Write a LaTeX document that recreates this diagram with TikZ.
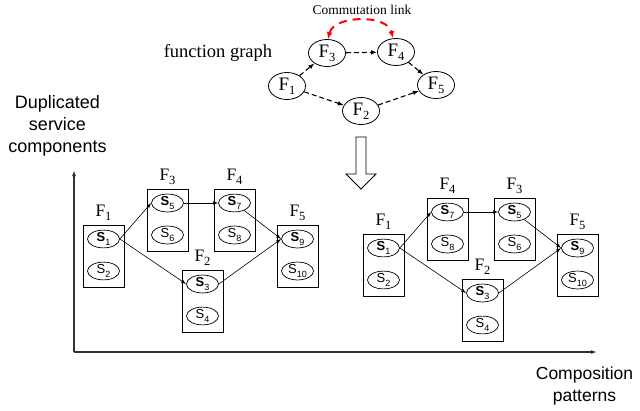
\documentclass[tikz,border=0pt]{standalone}
\usepackage{fontspec}
\setmainfont{Liberation Serif}
\setsansfont{Liberation Sans}
\usetikzlibrary{arrows.meta,shapes.geometric}
\newcommand{\FF}[1]{F\raisebox{-4pt}{\fontsize{12.5}{12.5}\selectfont #1}}
\newcommand{\SSb}[1]{\textbf{S}\raisebox{-3.5pt}{\fontsize{9}{9}\selectfont #1}}
\newcommand{\SSr}[1]{S\raisebox{-3.5pt}{\fontsize{9}{9}\selectfont #1}}
\tikzset{
  fnode/.style={ellipse, draw, line width=0.8pt, minimum width=37pt, minimum height=27pt, inner sep=0pt, font=\fontsize{19}{19}\selectfont},
  fbox/.style={draw, line width=0.8pt, minimum width=41pt, minimum height=62pt, inner sep=0pt},
  snode/.style={ellipse, draw, line width=0.7pt, minimum width=32pt, minimum height=15pt, inner sep=0pt, font=\sffamily\fontsize{13}{13}\selectfont},
  flab/.style={anchor=base, inner sep=0pt, font=\fontsize{17.5}{17.5}\selectfont},
  dasharrow/.style={line width=1.1pt, dash pattern=on 5pt off 3pt, -{Latex[length=6pt,width=4.5pt]}},
  sarrow/.style={line width=0.6pt, -{Latex[length=5pt,width=3.5pt]}},
  axis/.style={line width=1.3pt, draw=black!80, -{Latex[length=6pt,width=4pt]}},
  axlab/.style={align=center, inner sep=0pt, font=\sffamily\fontsize{18}{22}\selectfont}
}
\begin{document}
\begin{tikzpicture}[x=1pt,y=-1pt]
\useasboundingbox (0,0) rectangle (640,410);
% ---- function graph ----
\node[font=\fontsize{18.5}{20}\selectfont] (fg) at (218,53) {function graph};
\node[font=\fontsize{13.5}{15}\selectfont] (cl) at (362,10) {Commutation link};
\node[fnode] (t1) at (287,86) {\FF{1}};
\node[fnode] (t3) at (327,53) {\FF{3}};
\node[fnode] (t4) at (396,52) {\FF{4}};
\node[fnode] (t5) at (436,85) {\FF{5}};
\node[fnode] (t2) at (361,111) {\FF{2}};
\draw[dasharrow] (t1) -- (t3);
\draw[dasharrow] (t3) -- (t4);
\draw[dasharrow] (t4) -- (t5);
\draw[dasharrow] (t1) -- (t2);
\draw[dasharrow] (t2) -- (t5);
\draw[red, line width=2pt, dash pattern=on 8pt off 6pt, {Latex[length=7pt,width=6pt]}-{Latex[length=7pt,width=6pt]}]
  ([xshift=1pt]t3.north) .. controls +(6,-24) and +(-6,-24) .. ([xshift=-3pt]t4.north);
% ---- big arrow ----
\draw[line width=0.8pt, fill=white] (356,137) -- (366,137) -- (366,174) -- (376,174) -- (361,189) -- (346,174) -- (356,174) -- cycle;
% ---- axes ----
\coordinate (O) at (74,352);
\coordinate (Ytop) at (74,170);
\coordinate (Xend) at (597,352);
\draw[axis] (O) -- (Ytop);
\draw[axis] (O) -- (Xend);
\node[axlab] (ylab) at (57.5,126) {Duplicated\\service\\components};
\node[axlab, font=\sffamily\fontsize{17.5}{22.5}\selectfont] (xlab) at (584.5,386) {Composition\\patterns};
% ---- left composition ----
\node[fbox] (LB1) at (103.5,256) {};
\node[fbox] (LB3) at (167.5,220) {};
\node[fbox] (LB4) at (234.5,220) {};
\node[fbox] (LB5) at (297.5,256) {};
\node[fbox] (LB2) at (202.5,301) {};
\node[flab] at ([yshift=8pt]LB1.north) {\FF{1}};
\node[flab] at ([yshift=8pt]LB3.north) {\FF{3}};
\node[flab] at ([yshift=8pt]LB4.north) {\FF{4}};
\node[flab] at ([yshift=8pt]LB5.north) {\FF{5}};
\node[flab] at ([yshift=8pt]LB2.north) {\FF{2}};
\node[snode] (LS1) at ([yshift=17pt]LB1.center) {\SSb{1}};
\node[snode] (LS2) at ([yshift=-15pt]LB1.center) {\SSr{2}};
\node[snode] (LS5) at ([yshift=17pt]LB3.center) {\SSb{5}};
\node[snode] (LS6) at ([yshift=-15pt]LB3.center) {\SSr{6}};
\node[snode] (LS7) at ([yshift=17pt]LB4.center) {\SSb{7}};
\node[snode] (LS8) at ([yshift=-15pt]LB4.center) {\SSr{8}};
\node[snode] (LS9) at ([yshift=17pt]LB5.center) {\SSb{9}};
\node[snode] (LS10) at ([yshift=-15pt]LB5.center) {\SSr{10}};
\node[snode] (LS3) at ([yshift=17pt]LB2.center) {\SSb{3}};
\node[snode] (LS4) at ([yshift=-15pt]LB2.center) {\SSr{4}};
\draw[sarrow] (LS1.east) -- (LS5.west);
\draw[sarrow] (LS1.east) -- (LS3.west);
\draw[sarrow] (LS5.east) -- (LS7.west);
\draw[sarrow] (LS7) -- (LS9.west);
\draw[sarrow] (LS3.east) -- (LS9.west);
% ---- right composition ----
\node[fbox] (RB1) at (383.5,265) {};
\node[fbox] (RB4) at (447.5,229) {};
\node[fbox] (RB3) at (514.5,229) {};
\node[fbox] (RB5) at (577.5,265) {};
\node[fbox] (RB2) at (482.5,310) {};
\node[flab] at ([yshift=8pt]RB1.north) {\FF{1}};
\node[flab] at ([yshift=8pt]RB4.north) {\FF{4}};
\node[flab] at ([yshift=8pt]RB3.north) {\FF{3}};
\node[flab] at ([yshift=8pt]RB5.north) {\FF{5}};
\node[flab] at ([yshift=8pt]RB2.north) {\FF{2}};
\node[snode] (RS1) at ([yshift=17pt]RB1.center) {\SSb{1}};
\node[snode] (RS2) at ([yshift=-15pt]RB1.center) {\SSr{2}};
\node[snode] (RS7) at ([yshift=17pt]RB4.center) {\SSb{7}};
\node[snode] (RS8) at ([yshift=-15pt]RB4.center) {\SSr{8}};
\node[snode] (RS5) at ([yshift=17pt]RB3.center) {\SSb{5}};
\node[snode] (RS6) at ([yshift=-15pt]RB3.center) {\SSr{6}};
\node[snode] (RS9) at ([yshift=17pt]RB5.center) {\SSb{9}};
\node[snode] (RS10) at ([yshift=-15pt]RB5.center) {\SSr{10}};
\node[snode] (RS3) at ([yshift=17pt]RB2.center) {\SSb{3}};
\node[snode] (RS4) at ([yshift=-15pt]RB2.center) {\SSr{4}};
\draw[sarrow] (RS1.east) -- (RS7.west);
\draw[sarrow] (RS1.east) -- (RS3.west);
\draw[sarrow] (RS7.east) -- (RS5.west);
\draw[sarrow] (RS5) -- (RS9.west);
\draw[sarrow] (RS3.east) -- (RS9.west);
\end{tikzpicture}
\end{document}
